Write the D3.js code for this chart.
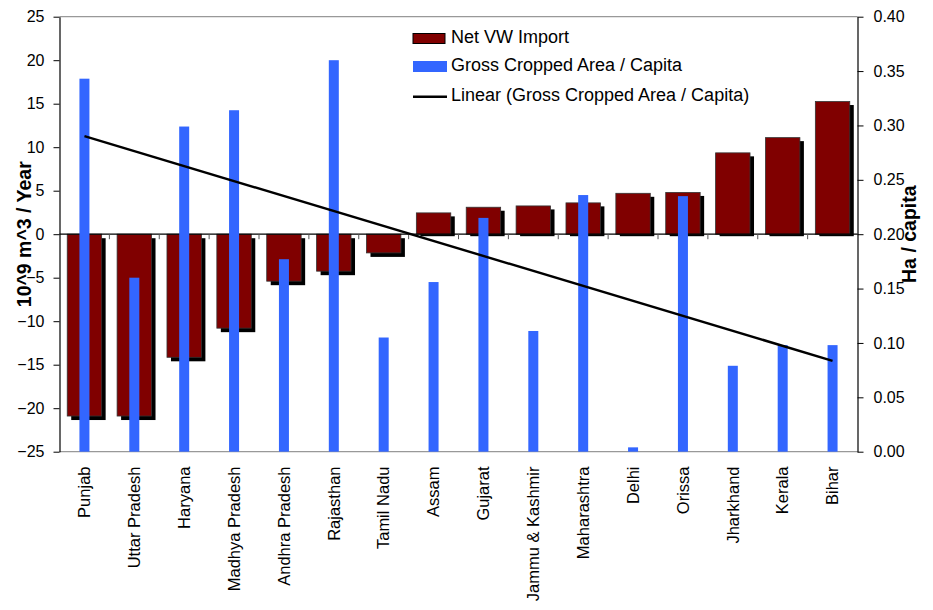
<!DOCTYPE html>
<html>
<head>
<meta charset="utf-8">
<script src="https://cdn.jsdelivr.net/npm/d3@7"></script>
<style>
  html, body { margin: 0; padding: 0; background: #fff; }
  svg { display: block; font-family: Arial, "Liberation Sans", sans-serif; }
</style>
</head>
<body>
<svg id="chart" width="933" height="610"></svg>
<script>
// ---- Data ----
const categories = ["Punjab", "Uttar Pradesh", "Haryana", "Madhya Pradesh", "Andhra Pradesh",
  "Rajasthan", "Tamil Nadu", "Assam", "Gujarat", "Jammu & Kashmir", "Maharashtra",
  "Delhi", "Orissa", "Jharkhand", "Kerala", "Bihar"];
const netVWImport = [-20.9, -20.9, -14.15, -10.8, -5.4, -4.25, -2.15, 2.45, 3.1, 3.25,
  3.6, 4.7, 4.8, 9.35, 11.1, 15.25];
const croppedAreaPerCapita = [0.343, 0.160, 0.299, 0.314, 0.177, 0.360, 0.105, 0.156,
  0.215, 0.111, 0.236, 0.004, 0.235, 0.079, 0.098, 0.098];
const leftTicks = [-25, -20, -15, -10, -5, 0, 5, 10, 15, 20, 25];
const rightTicks = [0, 0.05, 0.10, 0.15, 0.20, 0.25, 0.30, 0.35, 0.40];
const seriesNames = ["Net VW Import", "Gross Cropped Area / Capita", "Linear (Gross Cropped Area / Capita)"];
const leftTitle = "10^9 m^3 / Year";
const rightTitle = "Ha / capita";

// ---- Layout ----
const svg = d3.select("#chart");
const X0 = 59.5, X1 = 857.5, YT = 16.7, YB = 451.7;

const x = d3.scaleBand().domain(categories).range([X0, X1]).padding(0);
const yL = d3.scaleLinear().domain([-25, 25]).range([YB, YT]);
const yR = d3.scaleLinear().domain([0, 0.4]).range([YB, YT]);

const RED = "#800000", BLUE = "#3366FF";

// plot frame (grey top and bottom)
svg.append("line").attr("x1", X0).attr("x2", X1).attr("y1", YT).attr("y2", YT)
  .attr("stroke", "#999").attr("stroke-width", 1.2);
svg.append("line").attr("x1", X0).attr("x2", X1).attr("y1", YB).attr("y2", YB)
  .attr("stroke", "#999").attr("stroke-width", 1.2);

const redW = x.bandwidth() * 0.69;
const blueW = 10;
const z = yL(0);

// red bar shadows
svg.append("g").selectAll("rect").data(netVWImport).join("rect")
  .attr("x", (d, i) => x(categories[i]) + (x.bandwidth() - redW) / 2 + 4)
  .attr("y", d => d >= 0 ? yL(d) + 3.5 : z + 4)
  .attr("width", redW)
  .attr("height", d => d >= 0 ? (z + 2) - (yL(d) + 3.5) : yL(d) - z)
  .attr("fill", "#000");

// red bars
svg.append("g").selectAll("rect").data(netVWImport).join("rect")
  .attr("x", (d, i) => x(categories[i]) + (x.bandwidth() - redW) / 2)
  .attr("y", d => Math.min(yL(d), z))
  .attr("width", redW)
  .attr("height", d => Math.abs(yL(d) - z))
  .attr("fill", RED)
  .attr("stroke", "#333").attr("stroke-width", 0.8);

// zero line with category ticks
svg.append("line").attr("x1", X0).attr("x2", X1).attr("y1", z).attr("y2", z)
  .attr("stroke", "#000").attr("stroke-width", 1.2);
svg.append("g").selectAll("line").data(categories.slice(1)).join("line")
  .attr("x1", d => x(d)).attr("x2", d => x(d))
  .attr("y1", z).attr("y2", z + 5)
  .attr("stroke", "#555").attr("stroke-width", 1);

// blue bars
svg.append("g").selectAll("rect").data(croppedAreaPerCapita).join("rect")
  .attr("x", (d, i) => x(categories[i]) + x.bandwidth() / 2 - blueW / 2)
  .attr("y", d => yR(d))
  .attr("width", blueW)
  .attr("height", d => yR(0) - yR(d))
  .attr("fill", BLUE);

// linear trend (least squares over category index)
const n = croppedAreaPerCapita.length;
const idx = d3.range(1, n + 1);
const mx = d3.mean(idx), my = d3.mean(croppedAreaPerCapita);
const slope = d3.sum(idx, (v, i) => (v - mx) * (croppedAreaPerCapita[i] - my)) /
  d3.sum(idx, v => (v - mx) * (v - mx));
const icpt = my - slope * mx;
const trend = [1, n].map(v => ({ c: categories[v - 1], v: icpt + slope * v }));
svg.append("path")
  .attr("d", d3.line().x(d => x(d.c) + x.bandwidth() / 2).y(d => yR(d.v))(trend))
  .attr("fill", "none").attr("stroke", "#000").attr("stroke-width", 2.4);

// left axis
const gL = svg.append("g").attr("transform", `translate(${X0},0)`)
  .call(d3.axisLeft(yL).tickValues(leftTicks).tickSize(6).tickSizeOuter(0).tickPadding(9));
gL.select(".domain").attr("stroke", "#000").attr("stroke-width", 1.2);
gL.selectAll(".tick line").attr("stroke", "#000");
gL.selectAll(".tick text").attr("font-size", 16).attr("fill", "#000")
  .attr("font-family", "Arial, 'Liberation Sans', sans-serif");

// right axis
const gR = svg.append("g").attr("transform", `translate(${X1},0)`)
  .call(d3.axisRight(yR).tickValues(rightTicks).tickFormat(d3.format(".2f"))
    .tickSize(6).tickSizeOuter(0).tickPadding(10));
gR.select(".domain").attr("stroke", "#000").attr("stroke-width", 1.2);
gR.selectAll(".tick line").attr("stroke", "#000");
gR.selectAll(".tick text").attr("font-size", 16).attr("fill", "#000")
  .attr("font-family", "Arial, 'Liberation Sans', sans-serif");

// category labels
svg.append("g").selectAll("text").data(categories).join("text")
  .attr("transform", d => `translate(${x(d) + x.bandwidth() / 2},466.5) rotate(-90)`)
  .attr("text-anchor", "end").attr("dy", "0.35em")
  .attr("font-size", 16.5).attr("fill", "#000")
  .text(d => d);

// axis titles
svg.append("text")
  .attr("transform", `translate(24,${z}) rotate(-90)`)
  .attr("text-anchor", "middle").attr("dy", "0.35em")
  .attr("font-size", 19.5).attr("font-weight", "bold").text(leftTitle);
svg.append("text")
  .attr("transform", `translate(909,${z}) rotate(-90)`)
  .attr("text-anchor", "middle").attr("dy", "0.35em")
  .attr("font-size", 19.5).attr("font-weight", "bold").text(rightTitle);

// legend
const lg = svg.append("g");
lg.append("rect").attr("x", 413).attr("y", 33.5).attr("width", 32).attr("height", 10)
  .attr("fill", RED).attr("stroke", "#000").attr("stroke-width", 1);
lg.append("rect").attr("x", 413).attr("y", 61).attr("width", 34).attr("height", 11)
  .attr("fill", BLUE);
lg.append("line").attr("x1", 413).attr("x2", 447).attr("y1", 96.7).attr("y2", 96.7)
  .attr("stroke", "#000").attr("stroke-width", 2.4);
const legY = [37, 65, 95];
lg.selectAll("text.leg").data(seriesNames).join("text").attr("class", "leg")
  .attr("x", 451).attr("y", (d, i) => legY[i]).attr("dy", "0.35em")
  .attr("font-size", 18).attr("fill", "#000").text(d => d);
</script>
</body>
</html>
